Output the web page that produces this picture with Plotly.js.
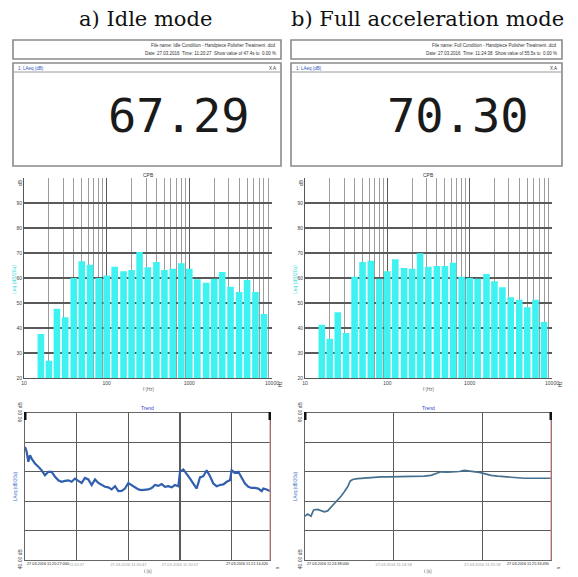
<!DOCTYPE html>
<html>
<head>
<meta charset="utf-8">
<script src="https://cdn.plot.ly/plotly-3.0.1.min.js"></script>
<style>html,body{margin:0;padding:0;background:#fff;}#chart{width:578px;height:577px;}</style>
</head>
<body>
<div id="chart"></div>
<script>
// ---------- data ----------
const panelTitles = ['a) Idle mode', 'b) Full acceleration mode'];
const leqValues = ['67.29', '70.30'];
const headerLine1 = ['File name: Idle Condition - Handpiece Polisher Treatment .dcd', 'File name: Full Condition - Handpiece Polisher Treatment .dcd'];
const headerLine2 = ['Date: 27.03.2016  Time: 11:20:27  Show value of 47.4s to  0.00 %', 'Date: 27.03.2016  Time: 11:24:38  Show value of 55.5s to  0.00 %'];

const freqs = [16,20,25,31.5,40,50,63,80,100,125,160,200,250,315,400,500,630,800,1000,1250,1600,2000,2500,3150,4000,5000,6300,8000];
const idleLevels = [37.6,26.9,47.7,44.3,60.0,66.7,65.3,60.0,61.0,64.5,62.7,63.2,70.4,64.3,66.4,63.2,63.7,65.9,63.7,59.5,58.1,59.7,62.4,56.5,54.4,59.2,54.4,45.6];
const fullLevels = [41.3,35.7,46.3,38.0,60.5,66.4,66.9,59.7,62.7,67.5,64.0,63.7,69.9,64.5,64.8,64.8,66.1,60.5,60.0,59.7,61.6,58.7,56.3,52.3,51.3,48.3,51.3,42.4];

const idleTime = [0,0.32,0.65,0.97,1.29,1.94,2.58,3.23,3.87,4.52,5.16,5.81,6.45,7.1,7.74,8.39,9.03,9.68,10.32,10.97,11.61,12.26,12.9,13.55,14.19,14.84,15.48,16.13,16.77,17.42,18.06,18.71,19.35,20,20.65,21.29,21.94,22.58,23.23,23.87,24.52,25.16,25.81,26.45,27.1,27.74,28.39,29.03,29.68,30,30.65,31.29,31.94,32.58,33.23,33.87,34.52,35.16,35.81,36.45,37.1,37.74,38.39,39.03,39.68,40,40.65,41.29,41.94,42.58,43.23,43.87,44.52,45.16,45.81,46.13,46.77,47.42];
const idleTrend = [78.5,76.8,73.4,75.6,74.5,
 72.8,71.7,70.5,68.8,70.0,70.0,68.3,67.1,66.6,66.9,
 67.1,66.6,67.7,66.9,66.2,67.9,67.4,65.5,67.4,66.2,
 65.5,64.9,64.7,64.0,65.1,63.4,63.5,64.3,66.2,65.5,
 64.7,64.0,63.8,63.8,64.0,64.5,65.5,65.2,65.8,64.9,
 65.1,64.7,65.5,65.1,
 70.0,70.8,69.4,67.7,66.0,64.3,68.1,68.5,70.5,68.5,66.0,65.1,65.5,65.7,66.6,67.1,
 70.5,
 69.6,70.0,68.1,66.0,64.9,64.5,64.5,64.3,63.4,
 64.3,64.0,63.5];

const fullTime = [0,0.6,1.35,1.95,2.86,3.61,4.36,5.11,5.86,6.62,7.37,8.12,8.87,9.62,10.23,10.75,11.88,13.38,14.89,17.14,18.65,20.9,23.16,25.41,26.92,28.42,29.55,30.68,32.18,33.68,34.81,35.94,37.07,38.2,39.32,40.45,41.95,43.46,44.96,46.47,47.97,49.47,51.73,53.98,55.49];
const fullTrend = [54.9,55.6,54.9,57.0,57.2,56.7,56.4,56.7,57.9,59.2,60.4,61.7,63.2,64.9,66.9,67.4,67.7,67.9,68.1,68.3,68.3,68.3,68.3,68.3,68.5,68.8,69.4,70.0,69.9,70.0,70.1,70.5,70.3,70.0,69.8,69.4,68.8,68.5,68.3,68.1,67.9,67.8,67.8,67.8,67.8];

const idleTimeTicks = [0,10,20,30,40];
const idleTimeLabels = ['','11:20:37','27.03.2016 11:20:47','27.03.2016 11:20:57',''];
const fullTimeTicks = [0,20,40];
const fullTimeLabels = ['','27.03.2016 11:24:58','27.03.2016 11:25:18'];
const timeStart = ['27.03.2016 11:20:27.000','27.03.2016 11:24:38.000'];
const timeEnd = ['27.03.2016 11:21:14.420','27.03.2016 11:25:33.490'];

// ---------- helpers ----------
const W = 578, H = 577;
const px = x => x / W;
const py = y => 1 - y / H;

// bar extent on the log axis: 80 % of a third-octave band, symmetric in log space
const halfDec = 0.04;
const barOffset = freqs.map(f => f * (Math.pow(10, -halfDec) - 1));
const barWidth = freqs.map(f => f * (Math.pow(10, halfDec) - Math.pow(10, -halfDec)));

const barColor = '#3ef2f2';
const gridDark = '#5a5a5a';
const gridLight = '#9c9c9c';
const tickFont = {family: 'Liberation Sans, Arial, sans-serif', size: 5, color: '#444'};

// ---------- traces ----------
const data = [
  {type: 'bar', x: freqs, y: idleLevels, offset: barOffset, width: barWidth, xaxis: 'x', yaxis: 'y', marker: {color: barColor, line: {width: 0}}},
  {type: 'bar', x: freqs, y: fullLevels, offset: barOffset, width: barWidth, xaxis: 'x2', yaxis: 'y2', marker: {color: barColor, line: {width: 0}}},
  {type: 'scatter', mode: 'lines', x: idleTime, y: idleTrend, xaxis: 'x3', yaxis: 'y3', line: {color: '#2f5fae', width: 2.2}},
  {type: 'scatter', mode: 'lines', x: fullTime, y: fullTrend, xaxis: 'x4', yaxis: 'y4', line: {color: '#46708f', width: 1.7}}
];

function barX(l, r) {
  return {domain: [px(l), px(r)], type: 'log', range: [1, 4], tickmode: 'array',
    tickvals: [10, 100, 1000, 10000], ticktext: ['10', '100', '1000', '10000'],
    showgrid: true, gridcolor: gridDark, gridwidth: 1,
    minor: {dtick: 'D1', showgrid: true, gridcolor: gridLight, gridwidth: 1, ticks: ''},
    showline: true, linecolor: '#555', linewidth: 1, ticks: '', zeroline: false,
    tickfont: tickFont, fixedrange: true};
}
function barY(anchor) {
  return {domain: [py(378), py(178)], range: [20, 100], tickmode: 'array',
    tickvals: [20,30,40,50,60,70,80,90], ticktext: ['20','30','40','50','60','70','80','90'],
    showgrid: true, gridcolor: gridDark, gridwidth: 1.2, showline: true, linecolor: '#555', linewidth: 1,
    ticks: '', zeroline: false, tickfont: tickFont, anchor: anchor, fixedrange: true};
}
function lineX(l, r, rng, tv, tt) {
  return {domain: [px(l), px(r)], range: rng, tickmode: 'array', tickvals: tv, ticktext: tt,
    showgrid: true, gridcolor: gridDark, gridwidth: 1.2, showline: true, mirror: true, linecolor: '#666', linewidth: 1,
    ticks: '', zeroline: false, tickfont: {family: 'Liberation Sans, Arial, sans-serif', size: 4, color: '#999'}, fixedrange: true};
}
function lineY(anchor) {
  return {domain: [py(560), py(413)], range: [40, 90], tickmode: 'array',
    tickvals: [40,50,60,70,80,90], ticktext: ['40.00 dB','','','','','90.00 dB'], tickangle: -90,
    showgrid: true, gridcolor: gridDark, gridwidth: 1.2, showline: true, mirror: true, linecolor: '#666', linewidth: 1,
    ticks: '', zeroline: false, tickfont: tickFont, anchor: anchor, fixedrange: true};
}

const layout = {
  width: W, height: H, margin: {l: 0, r: 0, t: 0, b: 0},
  paper_bgcolor: '#fff', plot_bgcolor: '#fff', showlegend: false,
  xaxis: Object.assign(barX(24, 272), {anchor: 'y'}),
  yaxis: barY('x'),
  xaxis2: Object.assign(barX(305, 552), {anchor: 'y2'}),
  yaxis2: barY('x2'),
  xaxis3: Object.assign(lineX(25, 270, [0, 47.42], idleTimeTicks, idleTimeLabels), {anchor: 'y3'}),
  yaxis3: lineY('x3'),
  xaxis4: Object.assign(lineX(305, 551, [0, 55.5], fullTimeTicks, fullTimeLabels), {anchor: 'y4'}),
  yaxis4: lineY('x4'),
  shapes: [],
  annotations: []
};

const panels = [
  {l: 13, r: 281, barL: 24, barR: 272, lineL: 25, lineR: 270, numX: 178},
  {l: 291, r: 562, barL: 305, barR: 552, lineL: 305, lineR: 551, numX: 457}
];

panels.forEach((p, i) => {
  // header box
  layout.shapes.push({type: 'rect', xref: 'paper', yref: 'paper', x0: px(p.l), x1: px(p.r), y0: py(59), y1: py(40),
    line: {color: '#8a8a8a', width: 1.6}, fillcolor: 'rgba(0,0,0,0)'});
  // number box
  layout.shapes.push({type: 'rect', xref: 'paper', yref: 'paper', x0: px(p.l), x1: px(p.r), y0: py(166), y1: py(63),
    line: {color: '#8a8a8a', width: 1.6}, fillcolor: 'rgba(0,0,0,0)'});
  layout.shapes.push({type: 'line', xref: 'paper', yref: 'paper', x0: px(p.l), x1: px(p.r), y0: py(72), y1: py(72),
    line: {color: '#9a9a9a', width: 1}});
  // trend plot decorations: red right border + cursor markers
  layout.shapes.push({type: 'line', xref: 'paper', yref: 'paper', x0: px(p.lineR), x1: px(p.lineR), y0: py(560), y1: py(413),
    line: {color: '#d98080', width: 1}});
  layout.shapes.push({type: 'rect', xref: 'paper', yref: 'paper', x0: px(p.lineL - 1), x1: px(p.lineL + 1.5), y0: py(420), y1: py(412),
    line: {width: 0}, fillcolor: '#111'});
  layout.shapes.push({type: 'rect', xref: 'paper', yref: 'paper', x0: px(p.lineR - 1.5), x1: px(p.lineR + 1), y0: py(420), y1: py(412),
    line: {width: 0}, fillcolor: '#111'});

  const A = layout.annotations;
  const sans = 'Liberation Sans, Arial, sans-serif';
  // panel title
  A.push({xref: 'paper', yref: 'paper', x: px(i === 0 ? 145 : 427), y: py(19), text: panelTitles[i], showarrow: false,
    xanchor: 'center', yanchor: 'middle', font: {family: 'DejaVu Serif, Liberation Serif, serif', size: 21, color: '#111'}});
  // header text
  A.push({xref: 'paper', yref: 'paper', x: px(p.r - 3), y: py(46), text: headerLine1[i], showarrow: false,
    xanchor: 'right', yanchor: 'middle', font: {family: sans, size: 4.5, color: '#333'}});
  A.push({xref: 'paper', yref: 'paper', x: px(p.r - 3), y: py(53), text: headerLine2[i], showarrow: false,
    xanchor: 'right', yanchor: 'middle', font: {family: sans, size: 4.5, color: '#333'}});
  // number box title bar
  A.push({xref: 'paper', yref: 'paper', x: px(p.l + 3), y: py(68), text: '1: LAeq (dB)', showarrow: false,
    xanchor: 'left', yanchor: 'middle', font: {family: sans, size: 4.5, color: '#3355bb'}});
  A.push({xref: 'paper', yref: 'paper', x: px(p.r - 3), y: py(68), text: 'X A', showarrow: false,
    xanchor: 'right', yanchor: 'middle', font: {family: sans, size: 4.5, color: '#333'}});
  // big value
  A.push({xref: 'paper', yref: 'paper', x: px(p.numX), y: py(116), text: leqValues[i], showarrow: false,
    xanchor: 'center', yanchor: 'middle', font: {family: 'DejaVu Sans Mono, Liberation Mono, monospace', size: 47, color: '#1a1a1a'}});
  // bar chart title & axis titles
  A.push({xref: 'paper', yref: 'paper', x: px((p.barL + p.barR) / 2), y: py(175), text: 'CPB', showarrow: false,
    xanchor: 'center', yanchor: 'middle', font: {family: sans, size: 5, color: '#333'}});
  A.push({xref: 'paper', yref: 'paper', x: px(p.barL - 10), y: py(280), text: 'Leq (dB/20u)', showarrow: false, textangle: -90,
    xanchor: 'center', yanchor: 'middle', font: {family: sans, size: 5, color: '#3cd8d8'}});
  A.push({xref: 'paper', yref: 'paper', x: px((p.barL + p.barR) / 2), y: py(389), text: 'f (Hz)', showarrow: false,
    xanchor: 'center', yanchor: 'middle', font: {family: sans, size: 4.5, color: '#666'}});
  A.push({xref: 'paper', yref: 'paper', x: px(p.barR + 8), y: py(384), text: 'Hz', showarrow: false, textangle: -90,
    xanchor: 'center', yanchor: 'middle', font: {family: sans, size: 4.5, color: '#333'}});
  A.push({xref: 'paper', yref: 'paper', x: px(p.barL - 4), y: py(183), text: 'dB', showarrow: false, textangle: -90,
    xanchor: 'center', yanchor: 'middle', font: {family: sans, size: 5, color: '#333'}});
  // trend titles
  A.push({xref: 'paper', yref: 'paper', x: px((p.lineL + p.lineR) / 2), y: py(408), text: 'Trend', showarrow: false,
    xanchor: 'center', yanchor: 'middle', font: {family: sans, size: 5, color: '#3344cc'}});
  A.push({xref: 'paper', yref: 'paper', x: px(p.lineL - 10), y: py(486), text: 'LAeq (dB/20u)', showarrow: false, textangle: -90,
    xanchor: 'center', yanchor: 'middle', font: {family: sans, size: 4.5, color: '#4477cc'}});
  A.push({xref: 'paper', yref: 'paper', x: px(p.lineL), y: py(564), text: timeStart[i], showarrow: false,
    xanchor: 'left', yanchor: 'middle', font: {family: sans, size: 3.8, color: '#222'}});
  A.push({xref: 'paper', yref: 'paper', x: px(p.lineR), y: py(564), text: timeEnd[i], showarrow: false,
    xanchor: 'right', yanchor: 'middle', font: {family: sans, size: 3.8, color: '#222'}});
  A.push({xref: 'paper', yref: 'paper', x: px((p.lineL + p.lineR) / 2), y: py(571), text: 't (s)', showarrow: false,
    xanchor: 'center', yanchor: 'middle', font: {family: sans, size: 4.5, color: '#666'}});
  A.push({xref: 'paper', yref: 'paper', x: px(p.lineR + 7), y: py(568), text: 's', showarrow: false, textangle: -90,
    xanchor: 'center', yanchor: 'middle', font: {family: sans, size: 4.5, color: '#333'}});
});

Plotly.newPlot('chart', data, layout, {staticPlot: true, displayModeBar: false});
</script>
</body>
</html>
